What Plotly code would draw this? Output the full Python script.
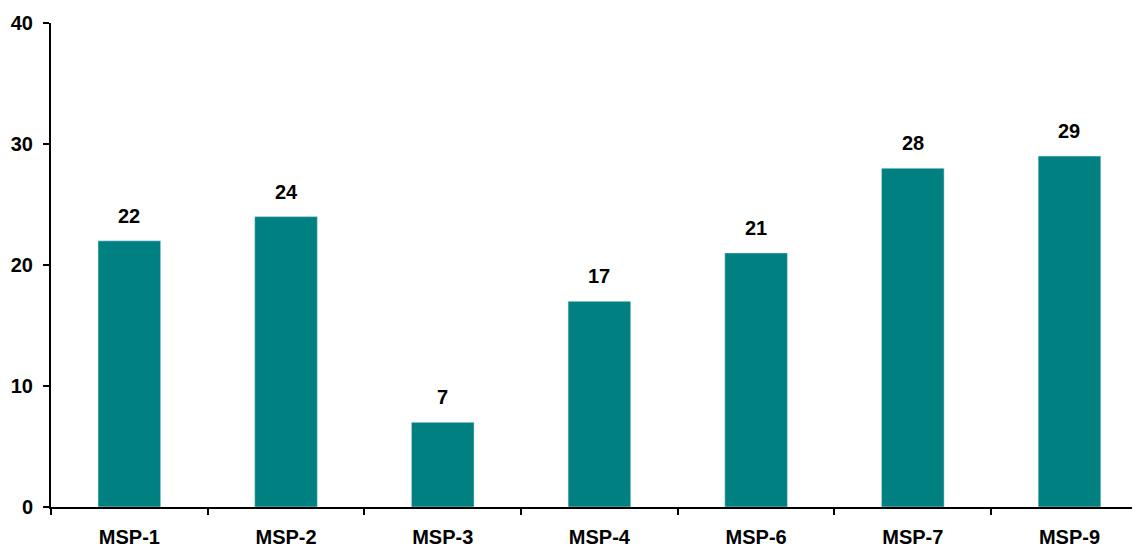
import plotly.graph_objects as go

categories = ["MSP-1", "MSP-2", "MSP-3", "MSP-4", "MSP-6", "MSP-7", "MSP-9"]
values = [22, 24, 7, 17, 21, 28, 29]
y_ticks = [0, 10, 20, 30, 40]

font = dict(family="Liberation Sans, Arial, sans-serif", size=20, color="black")

fig = go.Figure(go.Bar(x=categories, y=values, marker_color="#008080", width=0.4))

for c, v in zip(categories, values):
    fig.add_annotation(x=c, y=v, text="<b>%d</b>" % v, showarrow=False,
                       yanchor="bottom", yshift=12, font=font)

fig.update_layout(
    width=1132, height=540,
    margin=dict(l=43, r=0, t=15, b=41),
    plot_bgcolor="white", paper_bgcolor="white",
    showlegend=False, font=font,
)
fig.update_xaxes(
    range=[-0.5, 6.45], showline=True, linecolor="black", linewidth=2,
    ticks="outside", tickson="boundaries", ticklen=6, tickwidth=2, tickcolor="black",
    tickvals=categories, ticktext=["<b>%s</b>" % c for c in categories],
    ticklabelstandoff=11, showgrid=False, zeroline=False, automargin=False,
)
fig.update_yaxes(
    range=[0, 40], showline=True, linecolor="black", linewidth=2,
    ticks="outside", ticklen=6, tickwidth=2, tickcolor="black",
    tickvals=y_ticks, ticktext=["<b>%d</b>" % t for t in y_ticks],
    ticklabelstandoff=6, showgrid=False, zeroline=False, automargin=False,
)

fig.write_html("out.html")
